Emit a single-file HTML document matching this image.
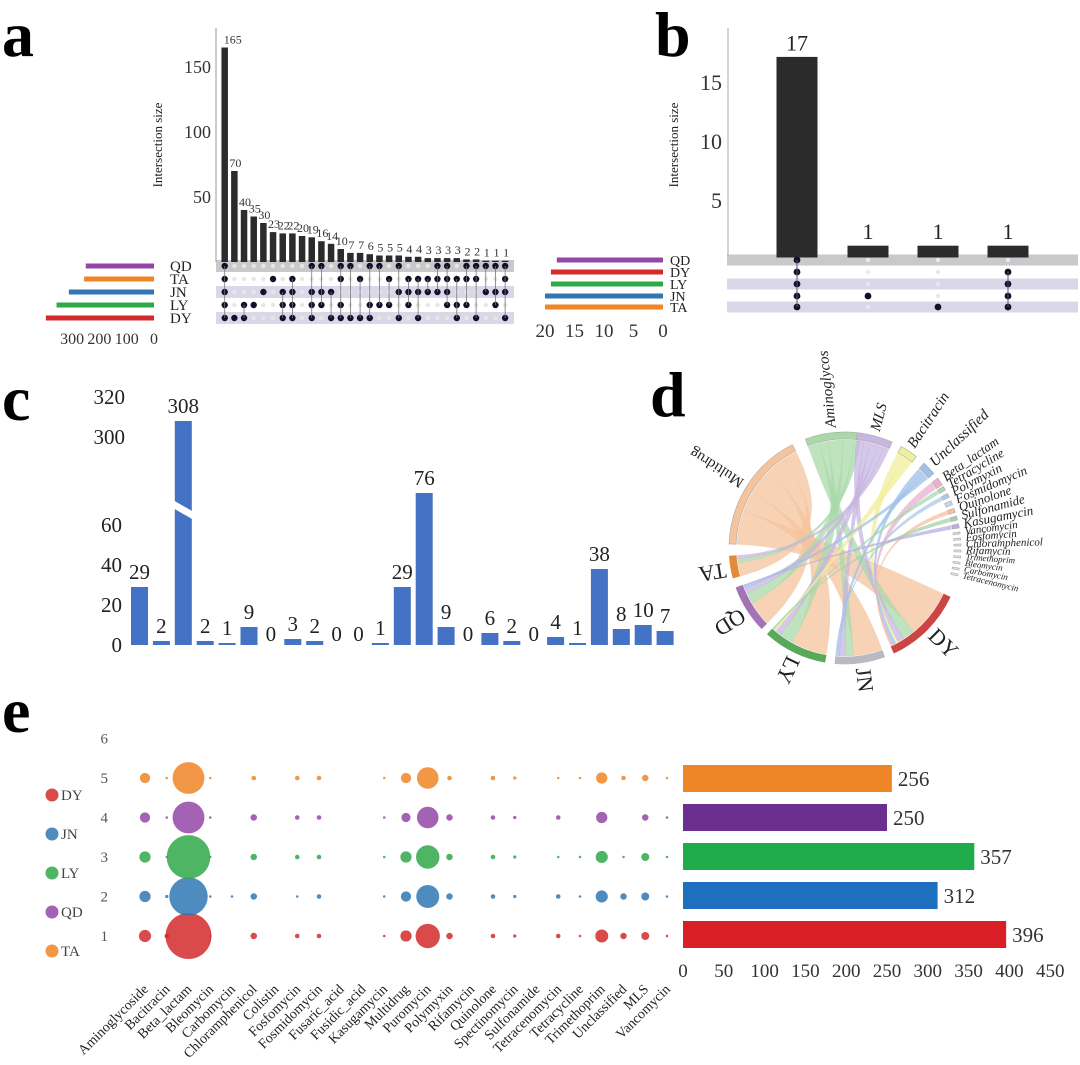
<!DOCTYPE html>
<html><head><meta charset="utf-8"><style>
body{margin:0;background:#fff}
svg{display:block;font-family:"Liberation Serif",serif}
</style></head><body>
<svg id="fig" width="1080" height="1065" viewBox="0 0 1080 1065">
<g font-weight="bold" font-size="64">
<text x="2" y="56">a</text>
<text x="655" y="56">b</text>
<text x="2" y="420">c</text>
<text x="650" y="416">d</text>
<text x="2" y="732">e</text>
</g>
<g id="pa"></g>
<g id="pb"></g>
<g id="pc"></g>
<g id="pd"></g>
<g id="pe"></g>
</svg>
<script>
// ---------- data ----------
const groupColors = {QD:'#9446a8',TA:'#ee8526',JN:'#2f78b4',LY:'#2fa84a',DY:'#d42a2a'};
// panel a
const aCounts = [165,70,40,35,30,23,22,22,20,19,16,14,10,7,7,6,5,5,5,4,4,3,3,3,3,2,2,1,1,1];
const aSetNames = ['QD','TA','JN','LY','DY'];
const aSetSizes = [250,256,312,357,396];
const aMemberQD = [0,9,10,12,13,15,16,18,22,23,25,26,27,28,29];
const aMemberTA = [0,5,7,12,14,17,19,20,21,22,23,24,25,26,29];
const aMemberJN = [0,4,6,7,9,10,11,18,19,20,21,22,23,27,28,29];
const aMemberLY = [0,2,3,6,7,9,10,12,15,16,17,19,23,24,25,28];
const aMemberDY = [0,1,2,6,7,9,11,12,13,14,15,18,20,24,26,29];
const aYTicks = [50,100,150];
const aSizeTicks = [300,200,100,0];
// panel b
const bCounts = [17,1,1,1];
const bSetNames = ['QD','DY','LY','JN','TA'];
const bSetSizes = [18,19,19,20,20];
const bMemberQD = [0];
const bMemberDY = [0,3];
const bMemberLY = [0,3];
const bMemberJN = [0,1,3];
const bMemberTA = [0,2,3];
const bYTicks = [5,10,15];
const bSizeTicks = [20,15,10,5,0];
// panel c / e categories
const categories = ['Aminoglycoside','Bacitracin','Beta_lactam','Bleomycin','Carbomycin','Chloramphenicol','Colistin','Fosfomycin','Fosmidomycin','Fusaric_acid','Fusidic_acid','Kasugamycin','Multidrug','Puromycin','Polymyxin','Rifamycin','Quinolone','Spectinomycin','Sulfonamide','Tetracenomycin','Tetracycline','Trimethoprim','Unclassified','MLS','Vancomycin'];
const cValues = [29,2,308,2,1,9,0,3,2,0,0,1,29,76,9,0,6,2,0,4,1,38,8,10,7];
const cLowTicks = [0,20,40,60];
const cHighTicks = [300,320];
// panel d
const dSectors = ['Multidrug','Aminoglycos','MLS','Bacitracin','Unclassified','Beta_lactam','Tetracycline','Polymyxin','Fosmidomycin','Quinolone','Sulfonamide','Kasugamycin','Vancomycin','Fosfomycin','Chloramphenicol','Rifamycin','Trimethoprim','Bleomycin','Carbomycin','Tetracenomycin','DY','JN','LY','QD','TA'];
const dStart = [272,340,6,29,43,53,58,62,66,70,74,78,82,85,88,91,94,97,100,103,115,160,190,226,255];
const dEnd   = [333,368,24,38,50,57,60,64,68,72,76,80,83,86,89,92,95,98,101,104,155,185,222,250,266];
const dColors = ['#f5c39c','#a9d9a9','#c7b6e0','#f1ef9a','#9fc0ea','#eab0d0','#a8d8b0','#b0c8e8','#c0d8f0','#f5c0a0','#a8d0a8','#b8b0e0','#c8e0c8','#e0d8e8','#e8d8e8','#e8e0f0','#e0e0e0','#e0e0e0','#e0e0e0','#e0e0e0','#cc4444','#b9b9c3','#5aa85a','#a373b3','#e38b3c'];
const dLinkSrc = ['Multidrug','Multidrug','Multidrug','Multidrug','Multidrug','Aminoglycos','Aminoglycos','Aminoglycos','Aminoglycos','Aminoglycos','MLS','MLS','MLS','MLS','MLS','Bacitracin','Bacitracin','Unclassified','Unclassified','Unclassified','Beta_lactam','Tetracycline','Polymyxin','Quinolone','Sulfonamide','Kasugamycin'];
const dLinkTgt = ['DY','JN','LY','QD','TA','DY','JN','LY','QD','TA','DY','JN','LY','QD','TA','DY','LY','DY','JN','QD','DY','LY','JN','DY','LY','QD'];
const dLinkVal = [100,60,80,55,40,25,18,30,25,12,14,12,14,12,10,5,5,7,6,6,3,2,2,2,2,2];
// panel e
const eGroups = ['DY','JN','LY','QD','TA'];
const eRowOf = [1,2,3,4,5];
const eValDY = [7,1,100,0.3,0,2,0,1,1,0,0,0.3,6,28,2,0,1,0.5,0,1,0.3,8,2,3,0.3];
const eValJN = [6,0.5,70,0.3,0.3,2,0,0.3,1,0,0,0.3,5,25,2,0,1,0.5,0,1,0.3,7,2,3,0.3];
const eValLY = [6,0.3,90,0.3,0,2,0,1,1,0,0,0.3,6,26,2,0,1,0.5,0,0.3,0.3,7,0.3,3,0.3];
const eValQD = [5,0.3,48,0.3,0,2,0,1,1,0,0,0.3,4,22,2,0,1,0.5,0,1,0,6,0,2,0.3];
const eValTA = [5,0.3,48,0.3,0,1,0,1,1,0,0,0.3,5,22,1,0,1,0.5,0,0.3,0.3,6,1,2,0.3];
const eTotalsNames = ['TA','QD','LY','JN','DY'];
const eTotals = [256,250,357,312,396];
const eBarColors = ['#ee8526','#6a2f8f','#21ac4b','#1f6fbf','#d81f26'];
const eXTicks = [0,50,100,150,200,250,300,350,400,450];
const eYTicks = [1,2,3,4,5,6];

// ---------- helpers ----------
const NS='http://www.w3.org/2000/svg';
function mk(parent,tag,attrs,text){const e=document.createElementNS(NS,tag);for(const k in attrs)e.setAttribute(k,attrs[k]);if(text!==undefined)e.textContent=text;parent.appendChild(e);return e;}

// ---------- panel a ----------
(function(){
const g=document.getElementById('pa');
const base=262, k=1.3, x0=224.7, dx=9.67, bw=6.5;
const ay=v=>base-v*k, ax=i=>x0+i*dx;
const rowsY=[266,279,292,305,318];
const members=[aMemberQD,aMemberTA,aMemberJN,aMemberLY,aMemberDY];
const bandFill=['#c9c9cc','#ffffff','#dcd7e8','#ffffff','#dcd7e8'];
rowsY.forEach((y,r)=>{const b=mk(g,'rect',{x:216,y:y-6,width:298,height:12,fill:bandFill[r]});

});
const axl=mk(g,'line',{x1:216,y1:28,x2:216,y2:262,stroke:'#999','stroke-width':1});


aYTicks.forEach(t=>{const e=mk(g,'text',{x:211,y:ay(t)+6,'text-anchor':'end','font-size':18,fill:'#333'},t);

});
const yt=mk(g,'text',{transform:'translate(162,145) rotate(-90)','text-anchor':'middle','font-size':13,fill:'#222'},'Intersection size');


aCounts.forEach((v,i)=>{
 const b=mk(g,'rect',{x:ax(i)-bw/2,y:ay(v),width:bw,height:v*k,fill:'#2b2b2b'});
 
 
 const t=mk(g,'text',{x:ax(i)+(i==0?8:1),y:ay(v)-4,'text-anchor':'middle','font-size':12,fill:'#333'},v);
 
 
 const ys=[];
 members.forEach((m,r)=>{const on=m.includes(i);if(on)ys.push(rowsY[r]);
  const c=mk(g,'circle',{cx:ax(i),cy:rowsY[r],r:on?3.2:2.2,fill:on?'#10102a':'#e6e6e6'});
  
  });
 if(ys.length>1){const l=mk(g,'line',{x1:ax(i),x2:ax(i),y1:Math.min(...ys),y2:Math.max(...ys),stroke:'#777','stroke-width':0.8});
  
  }
});
const sx=v=>154-v*0.273;
aSetNames.forEach((n,r)=>{
 const b=mk(g,'rect',{x:sx(aSetSizes[r]),y:rowsY[r]-2.5,width:aSetSizes[r]*0.273,height:5,fill:groupColors[n]});
 
 
 const t=mk(g,'text',{x:170,y:rowsY[r]+5,'font-size':15,fill:'#222'},n);
 
 
});
aSizeTicks.forEach(t=>{const e=mk(g,'text',{x:sx(t),y:344,'text-anchor':'middle','font-size':16,fill:'#333'},t);

});
})();

// ---------- panel b ----------
(function(){
const g=document.getElementById('pb');
const base=259,k=11.8,cols=[797,868,938,1008],bw=41;
const by=v=>base-v*k;
const rowsY=[260,272,284,296,307];
const members=[bMemberQD,bMemberDY,bMemberLY,bMemberJN,bMemberTA];
const bandFill=['#c9c9cc','#ffffff','#dcd7e8','#ffffff','#dcd7e8'];
rowsY.forEach((y,r)=>{const b=mk(g,'rect',{x:727,y:y-5.5,width:351,height:11,fill:bandFill[r]});

});
const axl=mk(g,'line',{x1:728,y1:28,x2:728,y2:256,stroke:'#aaa','stroke-width':1});


bYTicks.forEach(t=>{const e=mk(g,'text',{x:722,y:by(t)+8,'text-anchor':'end','font-size':22,fill:'#333'},t);

});
const yt=mk(g,'text',{transform:'translate(678,145) rotate(-90)','text-anchor':'middle','font-size':13,fill:'#222'},'Intersection size');


bCounts.forEach((v,i)=>{
 const b=mk(g,'rect',{x:cols[i]-bw/2,y:by(v)-1.5,width:bw,height:Math.max(v*k,3),fill:'#2b2b2b'});
 
 
 const t=mk(g,'text',{x:cols[i],y:by(v)-8,'text-anchor':'middle','font-size':22,fill:'#222'},v);
 
 
 const ys=[];
 members.forEach((m,r)=>{const on=m.includes(i);if(on)ys.push(rowsY[r]);
  const c=mk(g,'circle',{cx:cols[i],cy:rowsY[r],r:on?3.4:2.2,fill:on?'#10102a':'#e8e8ee'});
  
  });
 if(ys.length>1){const l=mk(g,'line',{x1:cols[i],x2:cols[i],y1:Math.min(...ys),y2:Math.max(...ys),stroke:'#556','stroke-width':1});
  
  }
});
const sx=v=>663-v*5.9;
bSetNames.forEach((n,r)=>{
 const b=mk(g,'rect',{x:sx(bSetSizes[r]),y:rowsY[r]-2.5,width:bSetSizes[r]*5.9,height:5,fill:groupColors[n]});
 
 
 const t=mk(g,'text',{x:670,y:rowsY[r]+5,'font-size':14,fill:'#222'},n);
 
 
});
bSizeTicks.forEach(t=>{const e=mk(g,'text',{x:sx(t),y:337,'text-anchor':'middle','font-size':19,fill:'#333'},t);

});
})();

// ---------- panel c ----------
(function(){
const g=document.getElementById('pc');
const x0=139.5,dx=21.9,bw=17,base=645;
const cx=i=>x0+i*dx;
const yLow=v=>base-v*2;
const yHigh=v=>437-(v-300)*2;
const cy=v=>v>=200?yHigh(v):yLow(v);
cLowTicks.forEach(t=>{const e=mk(g,'text',{x:122,y:yLow(t)+7,'text-anchor':'end','font-size':21,fill:'#222'},t);

});
cHighTicks.forEach(t=>{const e=mk(g,'text',{x:125,y:yHigh(t)+7,'text-anchor':'end','font-size':21,fill:'#222'},t);

});
cValues.forEach((v,i)=>{
 const top=cy(v);
 const b=mk(g,'rect',{x:cx(i)-bw/2,y:v===0?base:Math.min(top,base-1.5),width:bw,height:v===0?0:Math.max(base-top,1.5),fill:'#4472c4'});
 
 
 if(v>=200){const p=mk(g,'polygon',{points:`${cx(i)-bw/2-2},500 ${cx(i)+bw/2+2},512 ${cx(i)+bw/2+2},520 ${cx(i)-bw/2-2},508`,fill:'#fff'});
  
  }
 const t=mk(g,'text',{x:cx(i),y:(v===0?base-4:top-8),'text-anchor':'middle','font-size':21,fill:'#222'},v);
 
 
});
})();

// ---------- panel d ----------
(function(){
const g=document.getElementById('pd');
const C=[845,548],R=108,RO=116;
const rad=a=>(a-90)*Math.PI/180;
const pt=(a,r)=>[C[0]+r*Math.cos(rad(a)),C[1]+r*Math.sin(rad(a))];
// allocate angle ranges within sectors
const used={},tot={};
dSectors.forEach(s=>{used[s]=0;tot[s]=0;});
dLinkVal.forEach((v,i)=>{tot[dLinkSrc[i]]+=v;tot[dLinkTgt[i]]+=v;});
const seg=(s,v)=>{const j=dSectors.indexOf(s);const span=dEnd[j]-dStart[j];const a0=dStart[j]+used[s]/tot[s]*span;used[s]+=v;const a1=dStart[j]+used[s]/tot[s]*span;return [a0,a1];};
dLinkVal.forEach((v,i)=>{
 const s=dLinkSrc[i],t=dLinkTgt[i];
 const [a0,a1]=seg(s,v),[b0,b1]=seg(t,v);
 const p0=pt(a0,R),p1=pt(a1,R),q0=pt(b0,R),q1=pt(b1,R);
 const d=`M${p0} A${R},${R} 0 0 1 ${p1} Q${C} ${q0} A${R},${R} 0 0 1 ${q1} Q${C} ${p0} Z`;
 const col=dColors[dSectors.indexOf(s)];
 const p=mk(g,'path',{d:d,fill:col,'fill-opacity':0.75,stroke:col,'stroke-opacity':0.6,'stroke-width':0.5});
 
 
});
dSectors.forEach((s,j)=>{
 const a0=dStart[j],a1=dEnd[j];
 const o0=pt(a0,RO),o1=pt(a1,RO),i0=pt(a0,R+1),i1=pt(a1,R+1);
 const large=(a1-a0)>180?1:0;
 const d=`M${o0} A${RO},${RO} 0 ${large} 1 ${o1} L${i1} A${R+1},${R+1} 0 ${large} 0 ${i0} Z`;
 const col=dColors[j];
 const p=mk(g,'path',{d:d,fill:col,stroke:j<20?'#aaa':col,'stroke-width':0.6});
 
 
 const am=(a0+a1)/2;const lp=pt(am,RO+5);
 const small=j>=5&&j<20;
 const fs=j>=20?22:(j<5?15:(j<12?13:(j<16?11:9)));
 const t=mk(g,'text',{x:lp[0],y:lp[1],'font-size':fs,'font-style':(j<20&&j!=0)?'italic':'normal',fill:'#222','dominant-baseline':'middle',transform:`rotate(${am-90} ${lp[0]} ${lp[1]})`},s);
 
 
});
})();

// ---------- panel e ----------
(function(){
const g=document.getElementById('pe');
const x0=145,dx=21.75;
const ex=i=>x0+i*dx;
const ey=r=>936-(r-1)*39.5;
const kR=2.3;
eYTicks.forEach(t=>{const e=mk(g,'text',{x:108,y:ey(t)+5,'text-anchor':'end','font-size':15,fill:'#555'},t);

});
const vals={DY:eValDY,JN:eValJN,LY:eValLY,QD:eValQD,TA:eValTA};
eGroups.forEach((gname,gi)=>{
 vals[gname].forEach((v,i)=>{ if(v<=0)return;
  const c=mk(g,'circle',{cx:ex(i),cy:ey(eRowOf[gi]),r:Math.max(kR*Math.sqrt(v),1),fill:groupColors[gname],'fill-opacity':0.85});
  
  });
 const ly=795+gi*39;
 const d=mk(g,'circle',{cx:52,cy:ly,r:6.5,fill:groupColors[gname],'fill-opacity':0.85});
 
 
 const t=mk(g,'text',{x:61,y:ly+5,'font-size':15,fill:'#444'},gname);
 
 
});
categories.forEach((c,i)=>{const t=mk(g,'text',{x:ex(i)+4,y:990,'text-anchor':'end','font-size':14,fill:'#222',transform:`rotate(-45 ${ex(i)+4} 990)`},c);
 
 });
const bx=v=>683+v*0.816;
eTotals.forEach((v,i)=>{
 const y=765+i*39;
 const b=mk(g,'rect',{x:bx(0),y:y,width:bx(v)-bx(0),height:27,fill:eBarColors[i]});
 
 
 const t=mk(g,'text',{x:bx(v)+6,y:y+21,'font-size':21,fill:'#333'},v);
 
 
});
eXTicks.forEach(t=>{const e=mk(g,'text',{x:bx(t),y:977,'text-anchor':'middle','font-size':19,fill:'#333'},t);
 
 });
})();
</script>
</body></html>
